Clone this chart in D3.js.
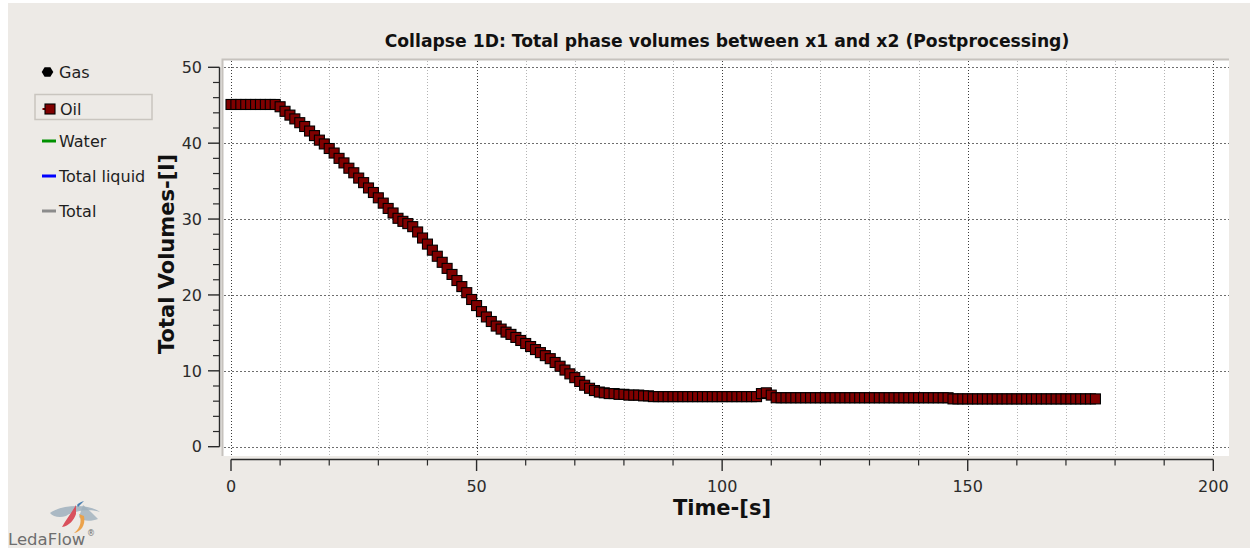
<!DOCTYPE html>
<html>
<head>
<meta charset="utf-8">
<script src="https://cdn.jsdelivr.net/npm/d3@7"></script>
<style>
  html, body { margin: 0; padding: 0; background: #ffffff; }
  svg { display: block; font-family: "DejaVu Sans", sans-serif; }
</style>
</head>
<body>
<svg id="chart" width="1250" height="548"></svg>
<script>
// Oil volume between x1 and x2, sampled once per second
const timeS = [
  0, 1, 2, 3, 4, 5, 6, 7, 8, 9,
  10, 11, 12, 13, 14, 15, 16, 17, 18, 19,
  20, 21, 22, 23, 24, 25, 26, 27, 28, 29,
  30, 31, 32, 33, 34, 35, 36, 37, 38, 39,
  40, 41, 42, 43, 44, 45, 46, 47, 48, 49,
  50, 51, 52, 53, 54, 55, 56, 57, 58, 59,
  60, 61, 62, 63, 64, 65, 66, 67, 68, 69,
  70, 71, 72, 73, 74, 75, 76, 77, 78, 79,
  80, 81, 82, 83, 84, 85, 86, 87, 88, 89,
  90, 91, 92, 93, 94, 95, 96, 97, 98, 99,
  100, 101, 102, 103, 104, 105, 106, 107, 108, 109,
  110, 111, 112, 113, 114, 115, 116, 117, 118, 119,
  120, 121, 122, 123, 124, 125, 126, 127, 128, 129,
  130, 131, 132, 133, 134, 135, 136, 137, 138, 139,
  140, 141, 142, 143, 144, 145, 146, 147, 148, 149,
  150, 151, 152, 153, 154, 155, 156, 157, 158, 159,
  160, 161, 162, 163, 164, 165, 166, 167, 168, 169,
  170, 171, 172, 173, 174, 175, 176
];
const oilVolumeL = [
  45.1, 45.1, 45.1, 45.1, 45.1, 45.1, 45.1, 45.1, 45.1, 45.1,
  44.8, 44.2, 43.7, 43.2, 42.7, 42.2, 41.6, 41.0, 40.4, 39.9,
  39.3, 38.7, 38.0, 37.4, 36.7, 36.1, 35.4, 34.8, 34.1, 33.5,
  32.8, 32.1, 31.4, 30.8, 30.1, 29.7, 29.4, 29.0, 28.3, 27.5,
  26.7, 25.9, 25.1, 24.3, 23.5, 22.7, 21.9, 21.1, 20.3, 19.4,
  18.6, 17.8, 17.1, 16.5, 15.9, 15.5, 15.1, 14.8, 14.4, 14.0,
  13.6, 13.2, 12.8, 12.4, 12.0, 11.6, 11.1, 10.6, 10.1, 9.6,
  9.1, 8.6, 8.1, 7.7, 7.4, 7.2, 7.1, 7.0, 7.0, 6.9,
  6.9, 6.8, 6.8, 6.8, 6.7, 6.7, 6.6, 6.6, 6.6, 6.6,
  6.6, 6.6, 6.6, 6.6, 6.6, 6.6, 6.6, 6.6, 6.6, 6.6,
  6.6, 6.6, 6.6, 6.6, 6.6, 6.6, 6.6, 6.6, 7.0, 7.1,
  6.8, 6.45, 6.45, 6.45, 6.45, 6.45, 6.45, 6.45, 6.45, 6.45,
  6.45, 6.45, 6.45, 6.45, 6.45, 6.45, 6.45, 6.45, 6.45, 6.45,
  6.45, 6.45, 6.45, 6.45, 6.45, 6.45, 6.45, 6.45, 6.45, 6.45,
  6.45, 6.45, 6.45, 6.45, 6.45, 6.45, 6.45, 6.3, 6.3, 6.3,
  6.3, 6.3, 6.3, 6.3, 6.3, 6.3, 6.3, 6.3, 6.3, 6.3,
  6.3, 6.3, 6.3, 6.3, 6.3, 6.3, 6.3, 6.3, 6.3, 6.3,
  6.3, 6.3, 6.3, 6.3, 6.3, 6.3, 6.3
];

const xMajorTicks = [0, 50, 100, 150, 200];
const xMinorTicks = [10, 20, 30, 40, 60, 70, 80, 90, 110, 120, 130, 140, 160, 170, 180, 190];
const yMajorTicks = [0, 10, 20, 30, 40, 50];
const yMinorTicks = [2, 4, 6, 8, 12, 14, 16, 18, 22, 24, 26, 28, 32, 34, 36, 38, 42, 44, 46, 48];

const legendNames = ["Gas", "Oil", "Water", "Total liquid", "Total"];
const legendColors = ["#000000", "#800000", "#009100", "#0000ff", "#8c8c8c"];

const titleText = "Collapse 1D: Total phase volumes between x1 and x2 (Postprocessing)";
const xTitle = "Time-[s]";
const yTitle = "Total Volumes-[l]";

const svg = d3.select("#chart");

// window background
svg.append("rect").attr("x", 8).attr("y", 3).attr("width", 1242).attr("height", 545)
  .attr("fill", "#edeae6");

const x = d3.scaleLinear().domain([0, 200]).range([231, 1213.3]);
const y = d3.scaleLinear().domain([0, 50]).range([446.7, 67.3]);

// plot canvas
const canvas = { x0: 222, y0: 59, x1: 1229, y1: 456 };
svg.append("rect").attr("x", canvas.x0).attr("y", canvas.y0)
  .attr("width", canvas.x1 - canvas.x0).attr("height", canvas.y1 - canvas.y0)
  .attr("fill", "#ffffff");
svg.append("path")
  .attr("d", `M${canvas.x0 + 0.5},${canvas.y1} V${canvas.y0 + 0.5} H${canvas.x1}`)
  .attr("fill", "none").attr("stroke", "#c6c2bd").attr("stroke-width", 2);

// grid
const grid = svg.append("g");
grid.selectAll("line.vminor").data(xMinorTicks).join("line")
  .attr("x1", d => Math.round(x(d)) + 0.5).attr("x2", d => Math.round(x(d)) + 0.5)
  .attr("y1", canvas.y0 + 2).attr("y2", canvas.y1)
  .attr("stroke", "#b4b4b4").attr("stroke-width", 1).attr("stroke-dasharray", "1,2");
grid.selectAll("line.vmajor").data(xMajorTicks).join("line")
  .attr("x1", d => Math.round(x(d)) + 0.5).attr("x2", d => Math.round(x(d)) + 0.5)
  .attr("y1", canvas.y0 + 2).attr("y2", canvas.y1)
  .attr("stroke", "#3c3c3c").attr("stroke-width", 1).attr("stroke-dasharray", "1,2");
grid.selectAll("line.hmajor").data(yMajorTicks).join("line")
  .attr("x1", canvas.x0 + 2).attr("x2", canvas.x1)
  .attr("y1", d => Math.round(y(d)) + 0.5).attr("y2", d => Math.round(y(d)) + 0.5)
  .attr("stroke", "#6e6e6e").attr("stroke-width", 1).attr("stroke-dasharray", "2,2");

// axes
const axisColor = "#2a2a2a";
const yAxis = svg.append("g");
yAxis.append("line").attr("x1", 219.5).attr("x2", 219.5).attr("y1", y(50)).attr("y2", y(0))
  .attr("stroke", axisColor).attr("stroke-width", 1.4);
yAxis.selectAll("line.maj").data(yMajorTicks).join("line")
  .attr("x1", 208).attr("x2", 219.5).attr("y1", d => y(d)).attr("y2", d => y(d))
  .attr("stroke", axisColor).attr("stroke-width", 1.4);
yAxis.selectAll("line.min").data(yMinorTicks).join("line")
  .attr("x1", 213).attr("x2", 219.5).attr("y1", d => y(d)).attr("y2", d => y(d))
  .attr("stroke", axisColor).attr("stroke-width", 1.2);
yAxis.selectAll("text").data(yMajorTicks).join("text")
  .attr("x", 202).attr("y", d => y(d)).attr("dy", "0.36em")
  .attr("text-anchor", "end").attr("font-size", 16).attr("fill", "#2b2b2b")
  .text(d => d);

const xAxis = svg.append("g");
xAxis.append("line").attr("x1", x(0)).attr("x2", x(200)).attr("y1", 459.5).attr("y2", 459.5)
  .attr("stroke", axisColor).attr("stroke-width", 1.4);
xAxis.selectAll("line.maj").data(xMajorTicks).join("line")
  .attr("x1", d => x(d)).attr("x2", d => x(d)).attr("y1", 459.5).attr("y2", 471)
  .attr("stroke", axisColor).attr("stroke-width", 1.4);
xAxis.selectAll("line.min").data(xMinorTicks).join("line")
  .attr("x1", d => x(d)).attr("x2", d => x(d)).attr("y1", 459.5).attr("y2", 465.5)
  .attr("stroke", axisColor).attr("stroke-width", 1.2);
xAxis.selectAll("text").data(xMajorTicks).join("text")
  .attr("x", d => x(d)).attr("y", 492)
  .attr("text-anchor", "middle").attr("font-size", 16).attr("fill", "#2b2b2b")
  .text(d => d);

// titles
svg.append("text").attr("x", 727).attr("y", 47).attr("text-anchor", "middle")
  .attr("font-size", 17.2).attr("font-weight", "bold").attr("fill", "#111")
  .text(titleText);
svg.append("text").attr("x", 722).attr("y", 515).attr("text-anchor", "middle")
  .attr("font-size", 21).attr("font-weight", "bold").attr("fill", "#111")
  .text(xTitle);
svg.append("text").attr("transform", "translate(174,254) rotate(-90)")
  .attr("text-anchor", "middle")
  .attr("font-size", 21).attr("font-weight", "bold").attr("fill", "#111")
  .text(yTitle);

// oil curve markers
const pts = timeS.map((t, i) => ({ t, v: oilVolumeL[i] }));
svg.append("g").selectAll("rect").data(pts).join("rect")
  .attr("x", d => x(d.t) - 5).attr("y", d => y(d.v) - 5)
  .attr("width", 10).attr("height", 10)
  .attr("fill", "#800000").attr("stroke", "#000").attr("stroke-width", 1.1);

// legend
const legendY = [72, 108, 141, 176, 211];
const legend = svg.append("g");
legend.append("rect").attr("x", 35).attr("y", 94.5).attr("width", 117).attr("height", 25)
  .attr("fill", "#edeae6").attr("stroke", "#c9c5bf").attr("stroke-width", 1.5);
legend.append("path")
  .attr("d", d3.line()(d3.range(6).map(k => [47.5 + 5.8 * Math.cos(Math.PI / 3 * k), legendY[0] + 5.5 * Math.sin(Math.PI / 3 * k)])) + "Z")
  .attr("fill", legendColors[0]);
legend.append("line").attr("x1", 42.5).attr("x2", 46).attr("y1", legendY[1] + 1).attr("y2", legendY[1] + 1)
  .attr("stroke", legendColors[1]).attr("stroke-width", 2);
legend.append("rect").attr("x", 45).attr("y", legendY[1] - 4).attr("width", 10).attr("height", 10)
  .attr("fill", legendColors[1]).attr("stroke", "#000").attr("stroke-width", 1.1);
[2, 3, 4].forEach(i => {
  legend.append("line").attr("x1", 42).attr("x2", 56).attr("y1", legendY[i]).attr("y2", legendY[i])
    .attr("stroke", legendColors[i]).attr("stroke-width", 3);
});
legend.selectAll("text").data(legendNames).join("text")
  .attr("x", (d, i) => i === 1 ? 60 : 59).attr("y", (d, i) => legendY[i] + (i === 1 ? 7 : 6))
  .attr("font-size", 16).attr("fill", "#1e1e1e")
  .text(d => d);

// LedaFlow logo
const logo = svg.append("g");
logo.append("path").attr("d", "M50,513 C60,505 88,503 100,512 C92,509 75,510 66,516 C60,518 53,517 50,513 Z")
  .attr("fill", "#9fb0bd").attr("opacity", 0.85);
logo.append("path").attr("d", "M83,505 C88,509 95,516 98,519 C90,522 82,521 79,517 Z")
  .attr("fill", "#9fb0bd").attr("opacity", 0.8);
logo.append("path").attr("d", "M76,505 C72,512 66,520 62,527 C69,526 74,520 76,514 Z")
  .attr("fill", "#d9505c");
logo.append("path").attr("d", "M79,514 C82,520 81,528 74,533 C80,532 86,526 84,516 Z")
  .attr("fill", "#eba24b");
logo.append("path").attr("d", "M77,505 C78,503 81,502 84,501 C82,503 80,505 78,507 Z")
  .attr("fill", "#4a7fb0");
logo.append("text").attr("x", 8).attr("y", 545).attr("font-size", 16.5).attr("fill", "#6e6e6e")
  .text("LedaFlow");
logo.append("text").attr("x", 87).attr("y", 536).attr("font-size", 8).attr("fill", "#6e6e6e")
  .text("®");
</script>
</body>
</html>
